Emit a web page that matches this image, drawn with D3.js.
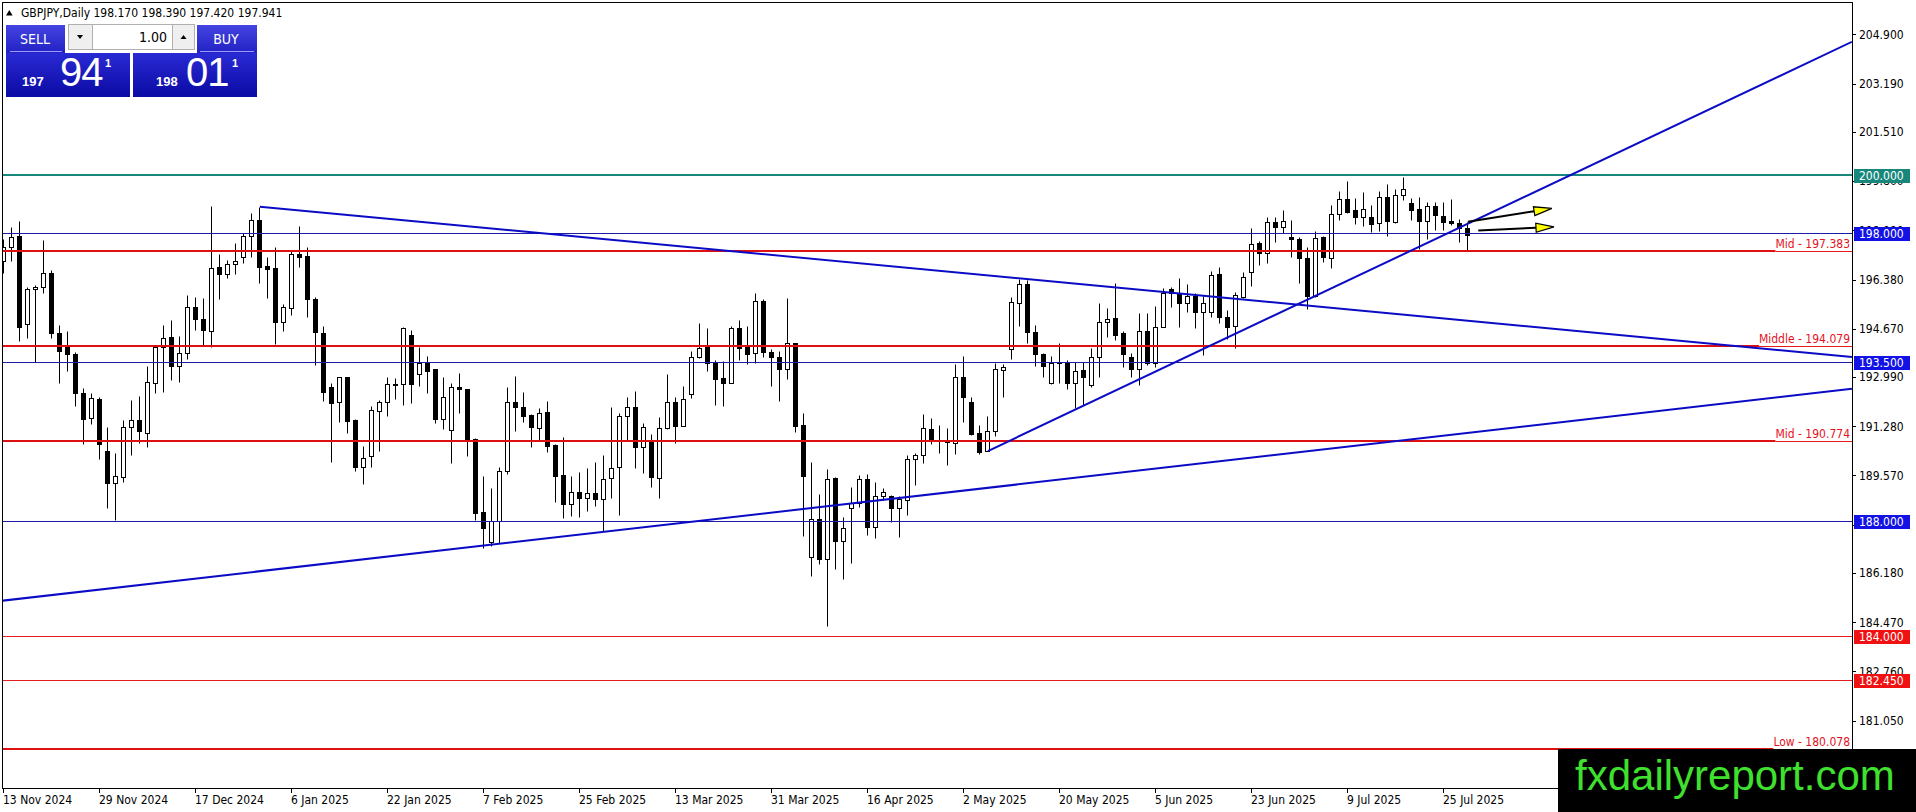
<!DOCTYPE html>
<html><head><meta charset="utf-8">
<script src="https://cdn.jsdelivr.net/npm/d3@7"></script>
<style>
html,body{margin:0;padding:0;background:#fff;overflow:hidden;width:1916px;height:812px}
svg{display:block}
text{font-family:"DejaVu Sans Condensed","DejaVu Sans",sans-serif;font-stretch:condensed}
</style></head><body>
<svg id="c" width="1916" height="812"></svg>
<script>
// ---------------- DATA ----------------
const symbol = "GBPJPY,Daily";
const bid = 197.941, ask = 198.011, lotSize = "1.00";
const opens = [197.03,197.52,197.89,194.82,196.04,196.11,196.59,194.51,194.05,193.79,192.42,191.56,192.23,190.42,189.30,189.53,191.27,191.50,191.06,192.77,194.02,194.37,193.39,193.84,195.44,195.01,194.60,196.80,196.57,196.91,
197.15,197.89,198.45,196.85,196.77,194.92,195.38,197.27,197.20,195.69,194.53,192.63,192.11,192.98,191.50,189.88,190.26,191.82,192.11,192.74,192.74,194.45,193.09,193.53,193.26,191.54,191.15,192.66,192.56,190.83,
188.29,187.27,187.99,189.74,192.14,191.96,191.66,191.21,191.76,190.63,189.59,188.57,189.01,188.78,188.95,188.74,189.47,189.85,191.64,191.94,190.57,190.75,189.47,191.21,192.11,191.30,192.39,193.70,194.07,193.49,
192.95,192.80,194.68,194.02,193.81,195.64,193.87,193.68,193.28,194.16,191.32,186.73,188.05,186.68,189.47,187.31,188.43,188.60,189.44,187.79,188.87,188.86,188.45,188.72,190.13,190.28,191.17,190.80,190.77,190.69,
192.98,192.11,191.04,190.43,191.13,193.24,193.95,195.55,196.22,194.54,193.78,192.77,193.49,193.49,192.77,193.24,192.71,193.70,194.89,195.03,194.51,193.70,193.26,194.59,193.47,194.74,196.04,195.92,195.55,195.81,
195.26,195.24,196.56,195.07,194.78,195.76,196.65,197.64,197.29,198.39,198.19,197.85,197.78,197.12,195.81,197.85,197.14,198.64,199.17,198.80,198.56,198.54,198.33,199.24,198.39,199.32,199.03,198.82,198.41,198.95,
198.60,198.41,198.33,198.170];
const highs = [197.78,198.19,198.41,196.11,196.19,197.75,196.71,194.80,194.59,193.87,192.60,192.42,192.31,191.24,190.34,191.50,192.19,192.33,193.37,194.10,194.80,194.97,194.42,195.84,195.78,195.73,198.93,197.27,197.06,197.64,
198.01,198.68,198.91,197.15,197.50,195.53,197.38,198.24,197.50,195.78,194.76,192.77,193.00,193.00,191.52,190.60,191.98,192.19,192.98,192.95,194.74,194.63,194.02,193.72,193.28,192.98,192.80,193.12,192.59,190.88,
189.55,189.12,189.88,192.63,193.03,192.48,191.71,191.93,192.16,190.66,190.92,189.55,189.70,189.82,190.05,190.28,191.96,191.75,192.29,192.51,191.38,191.01,191.61,193.09,192.31,192.69,193.91,194.86,194.68,193.58,
193.55,194.76,194.97,194.76,195.92,195.69,193.95,193.91,195.73,194.19,191.73,190.05,188.93,189.78,189.53,188.14,189.16,189.59,189.62,189.36,189.12,188.89,188.86,190.28,190.34,191.71,191.56,191.32,191.21,193.43,
193.72,192.31,191.32,191.64,193.49,193.44,195.78,196.39,196.36,194.80,193.84,193.72,194.16,193.58,193.53,193.53,193.99,195.58,195.38,196.27,194.59,193.84,195.20,195.20,195.46,196.10,196.13,196.42,196.22,195.90,
195.81,196.68,196.80,195.32,195.96,196.65,198.16,197.73,198.54,198.56,198.80,198.45,197.85,197.50,198.07,197.89,198.97,199.46,199.80,199.20,199.43,198.97,199.47,199.70,199.51,199.93,199.20,199.24,199.06,199.08,
199.08,199.17,198.47,198.390];
const lows = [196.62,197.03,194.25,194.34,193.50,195.92,194.34,192.80,193.21,192.00,190.65,191.36,190.13,188.43,188.02,189.36,190.28,190.69,190.57,192.42,192.48,192.89,192.83,193.61,194.63,194.07,194.02,195.71,196.42,196.56,
196.97,197.17,196.27,195.73,194.14,194.60,195.15,196.83,195.09,193.41,192.17,190.05,191.44,191.06,189.74,189.27,189.85,190.43,191.64,192.22,192.02,192.10,192.68,192.45,191.41,191.17,189.99,191.75,190.26,188.02,
187.04,187.12,187.21,189.61,191.13,191.44,190.57,190.80,190.40,188.66,188.10,188.16,188.12,188.35,188.51,187.65,188.78,188.20,190.80,189.84,189.65,189.16,188.78,191.19,190.71,191.29,192.25,193.64,193.21,192.02,
191.98,192.77,193.58,193.43,193.47,193.70,192.68,192.17,192.92,191.09,187.47,186.08,186.49,184.35,186.32,185.97,186.54,188.49,187.50,187.41,188.72,187.97,187.42,188.20,189.24,190.02,190.65,190.36,189.93,190.32,
191.44,190.98,190.32,190.42,190.95,192.31,193.61,194.76,194.19,193.39,193.00,192.75,192.77,192.56,191.90,192.02,192.63,193.00,194.39,194.28,193.35,192.98,192.71,193.41,193.35,194.72,195.44,194.74,195.26,194.68,
193.76,195.09,194.88,194.30,193.99,195.73,196.15,196.88,196.97,197.69,197.98,197.17,196.25,195.34,195.76,197.00,196.77,198.45,198.70,198.31,198.24,198.04,198.08,197.89,198.36,199.14,198.45,197.43,197.78,198.10,
198.10,198.27,197.69,197.420];
const closes = [197.52,197.87,194.74,196.04,196.11,196.59,194.51,193.91,193.78,192.42,191.54,192.25,190.65,189.30,189.55,191.24,191.50,191.13,192.81,194.02,194.34,193.39,193.84,195.44,195.00,194.63,196.77,196.57,196.91,197.03,
197.89,198.45,196.83,196.73,194.92,195.41,197.27,197.17,195.69,194.57,192.48,192.10,192.98,191.48,189.88,190.17,191.85,192.12,192.74,192.75,194.68,192.74,193.49,193.21,191.54,192.31,192.63,192.56,190.80,188.28,
187.73,188.00,189.74,192.14,191.96,191.65,191.24,191.75,190.61,189.56,188.57,188.99,188.78,188.95,188.74,189.44,189.84,191.64,191.94,190.57,191.24,189.51,191.21,192.11,191.30,192.22,193.70,194.01,193.49,192.93,
192.80,194.68,194.01,193.79,195.62,193.87,193.70,193.28,194.16,191.30,189.55,188.05,186.67,189.44,187.31,187.73,188.60,189.44,187.79,188.87,188.99,188.45,188.74,190.13,190.28,191.21,190.83,190.78,190.72,193.00,
192.31,191.01,190.40,191.13,193.26,193.35,195.59,196.22,194.57,193.78,193.39,193.49,193.50,192.77,193.21,192.98,193.70,194.89,195.02,194.45,193.78,193.26,194.59,193.47,194.74,195.92,195.90,195.55,195.81,195.26,
195.58,196.54,195.07,194.74,195.84,196.46,197.60,197.29,198.39,198.19,198.42,197.78,197.12,195.81,197.83,197.17,198.64,199.17,198.74,198.54,198.82,198.30,199.24,198.42,199.32,199.51,198.80,198.41,198.95,198.62,
198.37,198.33,198.16,197.941];
const dateLabels = ["13 Nov 2024","29 Nov 2024","17 Dec 2024","6 Jan 2025","22 Jan 2025","7 Feb 2025","25 Feb 2025","13 Mar 2025","31 Mar 2025","16 Apr 2025","2 May 2025","20 May 2025","5 Jun 2025","23 Jun 2025","9 Jul 2025","25 Jul 2025"];
const barsPerDateLabel = 12;
const priceTicks = [204.900,203.190,201.510,199.800,198.090,196.380,194.670,192.990,191.280,189.570,187.860,186.180,184.470,182.760,181.050];
const priceRange = [178.711, 205.988];
const barRange = [0, 231];
const tealLevels = [200.000];
const blueLevels = [198.000, 193.500, 188.000];
const redLevels = [184.000, 182.450];
const namedLevelNames = ["Mid", "Middle", "Mid", "Low"];
const namedLevelPrices = [197.383, 194.079, 190.774, 180.078];
const trendLines = [
  [[-0.49, 185.21], [231, 192.58]],
  [[32, 198.91], [231, 193.69]],
  [[123, 190.42], [231, 204.64]]
];
const arrowLines = [
  [[183, 198.39], [193.5, 198.85]],
  [[184.3, 198.08], [193.76, 198.21]]
];
const watermark = "fxdailyreport.com";

// ---------------- DRAW ----------------
const svg = d3.select('#c');
const defs = svg.append('defs');
defs.append('clipPath').attr('id','plotclip').append('rect')
  .attr('x',3).attr('y',3).attr('width',1849).attr('height',785);
const pg = defs.append('linearGradient').attr('id','pg').attr('x1',0).attr('y1',0).attr('x2',0).attr('y2',1);
pg.append('stop').attr('offset','0%').attr('stop-color','#4444e2');
pg.append('stop').attr('offset','100%').attr('stop-color','#2222c4');
const pg2 = defs.append('linearGradient').attr('id','pg2').attr('x1',0).attr('y1',0).attr('x2',0).attr('y2',1);
pg2.append('stop').attr('offset','0%').attr('stop-color','#2a2ad4');
pg2.append('stop').attr('offset','100%').attr('stop-color','#0a0aa4');

const x = d3.scaleLinear().domain(barRange).range([3.9, 1851.9]);
const y = d3.scaleLinear().domain(priceRange).range([788, 3]);
const cx = i => Math.floor(x(i)) + 0.5;
const py = p => Math.round(y(p)) + 0.5;

const bars = opens.map((o,i)=>({i, o, h:highs[i], l:lows[i], c:closes[i]}));

const plot = svg.append('g').attr('clip-path','url(#plotclip)');

// candles
const cg = plot.append('g');
cg.selectAll('line').data(bars).join('line')
  .attr('x1', d=>cx(d.i)).attr('x2', d=>cx(d.i))
  .attr('y1', d=>py(d.h)).attr('y2', d=>py(d.l))
  .attr('stroke','#000').attr('stroke-width',1);
cg.selectAll('rect').data(bars).join('rect')
  .attr('x', d=>cx(d.i)-2).attr('width',4)
  .attr('y', d=>py(Math.max(d.o,d.c)))
  .attr('height', d=>Math.max(py(Math.min(d.o,d.c)) - py(Math.max(d.o,d.c)), 1))
  .attr('fill', d=> d.c>=d.o ? '#fff' : '#000')
  .attr('stroke','#000').attr('stroke-width',1);

// horizontal levels
const hl = plot.append('g');
function hline(p, color, w, x1, x2){
  const yy = (w % 2) ? py(p) : Math.round(y(p));
  hl.append('line').attr('x1',x1 ?? 3).attr('x2',x2 ?? 1852).attr('y1',yy).attr('y2',yy)
    .attr('stroke',color).attr('stroke-width',w);
}
tealLevels.forEach(p=>hline(p,'#17877c',2));
blueLevels.forEach(p=>hline(p,'#1c1ca6',1));
redLevels.forEach(p=>hline(p,'#e41c1c',1));

// named red levels with labels
const nl = svg.append('g');
namedLevelPrices.forEach((p,k)=>{
  const t = nl.append('text').attr('x',1850).attr('y',Math.round(y(p))-3)
    .attr('text-anchor','end').attr('font-size',12).attr('fill','#e5121e')
    .text(namedLevelNames[k] + ' - ' + p.toFixed(3));
  const w = t.node().getComputedTextLength();
  hline(p,'#dd1111',2,3,1850-w);
  hline(p,'#e41c1c',1,1850-w,1852);
});

// trend lines
const lineGen = d3.line().x(d=>x(d[0])).y(d=>y(d[1]));
plot.append('g').selectAll('path').data(trendLines).join('path')
  .attr('d', lineGen).attr('fill','none').attr('stroke','#0b0bc6').attr('stroke-width',2);

// arrows
const ag = svg.append('g');
arrowLines.forEach(a=>{
  const x1=x(a[0][0]), y1=y(a[0][1]), x2=x(a[1][0]), y2=y(a[1][1]);
  const dx=x2-x1, dy=y2-y1, len=Math.hypot(dx,dy), ux=dx/len, uy=dy/len;
  const hl_=18, hw=4.5;
  const bx=x2-ux*hl_, by=y2-uy*hl_;
  ag.append('line').attr('x1',x1).attr('y1',y1).attr('x2',bx).attr('y2',by)
    .attr('stroke','#000').attr('stroke-width',2);
  ag.append('path').attr('d',`M${x2},${y2}L${bx-uy*hw},${by+ux*hw}L${bx+uy*hw},${by-ux*hw}Z`)
    .attr('fill','#ffff00').attr('stroke','#000').attr('stroke-width',1.2);
});

// frame
svg.append('rect').attr('x',2.5).attr('y',2.5).attr('width',1850).attr('height',786)
  .attr('fill','none').attr('stroke','#000').attr('stroke-width',1);

// price axis
const pa = svg.append('g');
pa.selectAll('line').data(priceTicks).join('line')
  .attr('x1',1852.5).attr('x2',1856).attr('y1',d=>py(d)).attr('y2',d=>py(d))
  .attr('stroke','#000');
pa.selectAll('text').data(priceTicks).join('text')
  .attr('x',1859).attr('y',d=>y(d)).attr('dy','0.36em').attr('font-size',12).attr('fill','#000')
  .text(d=>d.toFixed(3));

// level boxes
function levelBox(p, color){
  const yy = Math.round(y(p));
  svg.append('rect').attr('x',1854).attr('y',yy-6).attr('width',56).attr('height',14).attr('fill',color);
  svg.append('text').attr('x',1859).attr('y',yy+1).attr('dy','0.36em').attr('font-size',12)
    .attr('fill','#fff').text(p.toFixed(3));
}
tealLevels.forEach(p=>levelBox(p,'#17877c'));
blueLevels.forEach(p=>levelBox(p,'#1212e4'));
redLevels.forEach(p=>levelBox(p,'#f01212'));

// date axis
const da = svg.append('g');
dateLabels.forEach((lab,k)=>{
  const xx = cx(k*barsPerDateLabel);
  da.append('line').attr('x1',xx).attr('x2',xx).attr('y1',788.5).attr('y2',793).attr('stroke','#000');
  da.append('text').attr('x',xx-0.5).attr('y',804).attr('font-size',12).attr('fill','#000').text(lab);
});

// header
const last = bars[bars.length-1];
svg.append('path').attr('d','M6,15.5L9.3,10L12.6,15.5Z').attr('fill','#000');
svg.append('text').attr('x',21).attr('y',17).attr('font-size',12).attr('fill','#000')
  .text(`${symbol}  ${last.o.toFixed(3)} ${last.h.toFixed(3)} ${last.l.toFixed(3)} ${last.c.toFixed(3)}`);

// trade panel
const tp = svg.append('g');
tp.append('rect').attr('x',6).attr('y',25).attr('width',59).attr('height',28).attr('fill','url(#pg)');
tp.append('rect').attr('x',197).attr('y',25).attr('width',60).attr('height',28).attr('fill','url(#pg)');
tp.append('line').attr('x1',10).attr('x2',62).attr('y1',51.5).attr('y2',51.5).attr('stroke','#9a9aff');
tp.append('line').attr('x1',200).attr('x2',254).attr('y1',51.5).attr('y2',51.5).attr('stroke','#9a9aff');
tp.append('rect').attr('x',6).attr('y',53).attr('width',124).attr('height',44).attr('fill','url(#pg2)');
tp.append('rect').attr('x',133).attr('y',53).attr('width',124).attr('height',44).attr('fill','url(#pg2)');
tp.append('rect').attr('x',68.5).attr('y',24.5).attr('width',24).attr('height',25).attr('fill','#efefef').attr('stroke','#b0b0b0');
tp.append('rect').attr('x',92.5).attr('y',24.5).attr('width',80).attr('height',25).attr('fill','#fff').attr('stroke','#b0b0b0');
tp.append('rect').attr('x',172.5).attr('y',24.5).attr('width',22).attr('height',25).attr('fill','#efefef').attr('stroke','#b0b0b0');
tp.append('path').attr('d','M77,35L83,35L80,39Z').attr('fill','#000');
tp.append('path').attr('d','M180.5,39L186.5,39L183.5,35Z').attr('fill','#000');
tp.append('text').attr('x',167).attr('y',42).attr('text-anchor','end').attr('font-size',14).attr('fill','#000').text(lotSize);
tp.append('text').attr('x',35).attr('y',44).attr('text-anchor','middle').attr('font-size',14).attr('fill','#fff').text('SELL');
tp.append('text').attr('x',226).attr('y',44).attr('text-anchor','middle').attr('font-size',14).attr('fill','#fff').text('BUY');
function priceParts(v, xs, xb, xu){
  const s = v.toFixed(3);
  tp.append('text').attr('x',xs).attr('y',86).attr('font-size',13).attr('font-weight','bold')
    .style('font-family','"Liberation Sans",Arial,sans-serif').style('font-stretch','normal')
    .attr('fill','#fff').text(s.slice(0,3));
  tp.append('text').attr('x',xb).attr('y',86).attr('font-size',40).attr('letter-spacing',-1)
    .style('font-family','"Liberation Sans",Arial,sans-serif').style('font-stretch','normal')
    .attr('fill','#fff').text(s.slice(4,6));
  tp.append('text').attr('x',xu).attr('y',67).attr('font-size',11).attr('font-weight','bold')
    .style('font-family','"Liberation Sans",Arial,sans-serif').style('font-stretch','normal')
    .attr('fill','#fff').text(s.slice(6));
}
priceParts(bid, 22, 60, 105);
priceParts(ask, 156, 186, 232);

// watermark
svg.append('rect').attr('x',1558).attr('y',749).attr('width',358).attr('height',63).attr('fill','#000');
svg.append('text').attr('x',1575).attr('y',790).attr('font-size',42)
  .style('font-family','"Liberation Sans",Arial,sans-serif').style('font-stretch','normal')
  .attr('fill','#3fe02e').text(watermark);
</script>
</body></html>
